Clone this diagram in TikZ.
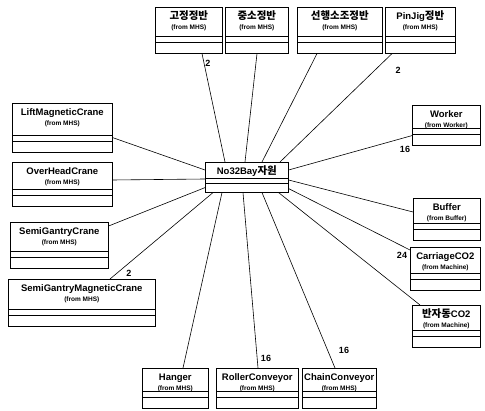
\documentclass[tikz,border=0pt]{standalone}
\usepackage{fontspec}
\setmainfont{Liberation Sans}
\newfontfamily\kr{Noto Sans CJK KR}[Scale=1.1]
\newcommand\namefont{\fontsize{9.5}{12}\selectfont\bfseries}
\newcommand\fromfont{\fontsize{6.5}{7}\selectfont\bfseries}

\tikzset{
    cls/.style={draw, line width=0.6pt, inner sep=0pt, anchor=north west,
        path picture={
            \draw[line width=0.6pt] ([yshift=11pt]path picture bounding box.south west) -- ([yshift=11pt]path picture bounding box.south east);
            \draw[line width=0.6pt] ([yshift=17pt]path picture bounding box.south west) -- ([yshift=17pt]path picture bounding box.south east);
        }},
    hub/.style={draw, line width=0.6pt, inner sep=0pt, anchor=north west,
        path picture={
            \draw[line width=0.6pt] ([yshift=9pt]path picture bounding box.south west) -- ([yshift=9pt]path picture bounding box.south east);
            \draw[line width=0.6pt] ([yshift=14pt]path picture bounding box.south west) -- ([yshift=14pt]path picture bounding box.south east);
        }},
    mult/.style={font=\fontsize{9}{10}\selectfont\bfseries, inner sep=0pt},
    link/.style={line width=0.6pt}
}

\begin{document}
\begin{tikzpicture}[x=1pt,y=-1pt]
    \useasboundingbox (0,0) rectangle (485,411);
    \def\cls(#1)#2#3#4#5#6{\node[cls] (#1) at (#2) {\parbox[c][#4pt][t]{#3pt}{\centering\namefont\rule{0pt}{12pt}#5\\[-1.5pt]{\fromfont(from #6)}}};}
    % centre
    \node[hub] (res) at (205,162) {\parbox[c][30pt][t]{83pt}{\centering\namefont\rule{0pt}{12pt}No32Bay{\kr 자원}}};
    % top row
    \cls(gjb){155,7}{67}{46}{{\kr 고정정반}}{MHS}
    \cls(jsb){225,7}{63}{46}{{\kr 중소정반}}{MHS}
    \cls(shb){297,7}{85}{46}{{\kr 선행소조정반}}{MHS}
    \cls(pjb){385,7}{70}{46}{PinJig{\kr 정반}}{MHS}
    % left column
    \cls(lmc){12,103}{100}{49}{LiftMagneticCrane}{MHS}
    \cls(ohc){12,162}{100}{44}{OverHeadCrane}{MHS}
    \cls(sgc){10,222}{98}{46}{SemiGantryCrane}{MHS}
    \cls(sgmc){8,279}{147}{47}{SemiGantryMagneticCrane}{MHS}
    % right column
    \cls(wrk){412,105}{68}{40}{Worker}{Worker}
    \cls(buf){413,198}{67}{42}{Buffer}{Buffer}
    \cls(cco){410,247}{70}{43}{CarriageCO2}{Machine}
    \cls(bco){412,305}{68}{42}{{\kr 반자동}CO2}{Machine}
    % bottom row
    \cls(hng){142,368}{66}{40}{Hanger}{MHS}
    \cls(rcv){216,368}{82}{40}{RollerConveyor}{MHS}
    \cls(ccv){302,368}{74}{40}{ChainConveyor}{MHS}

    % links
    \draw[link] ([xshift=47pt]gjb.south west) -- ([xshift=20pt]res.north west);
    \draw[link] ([xshift=32pt]jsb.south west) -- ([xshift=40pt]res.north west);
    \draw[link] ([xshift=20pt]shb.south west) -- ([xshift=57pt]res.north west);
    \draw[link] ([xshift=7pt]pjb.south west) -- ([xshift=75pt]res.north west);
    \draw[link] ([yshift=15pt]lmc.south east) -- ([yshift=-8pt]res.north west);
    \draw[link] ([yshift=-18pt]ohc.north east) -- ([yshift=-17pt]res.north west);
    \draw[link] ([yshift=-4pt]sgc.north east) -- ([yshift=5pt]res.south west);
    \draw[link] ([xshift=102pt]sgmc.north west) -- ([xshift=8pt]res.south west);
    \draw[link] ([yshift=10pt]wrk.south west) -- ([yshift=-8pt]res.north east);
    \draw[link] ([yshift=-14pt]buf.north west) -- ([yshift=-18pt]res.north east);
    \draw[link] ([yshift=-3pt]cco.north west) -- ([yshift=4pt]res.south east);
    \draw[link] ([xshift=8pt]bco.north west) -- ([xshift=-10pt]res.south east);
    \draw[link] ([xshift=41pt]hng.north west) -- ([xshift=17pt]res.south west);
    \draw[link] ([xshift=42pt]rcv.north west) -- ([xshift=38pt]res.south west);
    \draw[link] ([xshift=33pt]ccv.north west) -- ([xshift=57pt]res.south west);

    % multiplicities
    \node[mult] (m1) at (208,63) {2};
    \node[mult] (m2) at (398,70) {2};
    \node[mult] (m3) at (405,149) {16};
    \node[mult] (m4) at (402,255) {24};
    \node[mult] (m5) at (129,273) {2};
    \node[mult] (m6) at (266,358) {16};
    \node[mult] (m7) at (344,350) {16};
\end{tikzpicture}
\end{document}
